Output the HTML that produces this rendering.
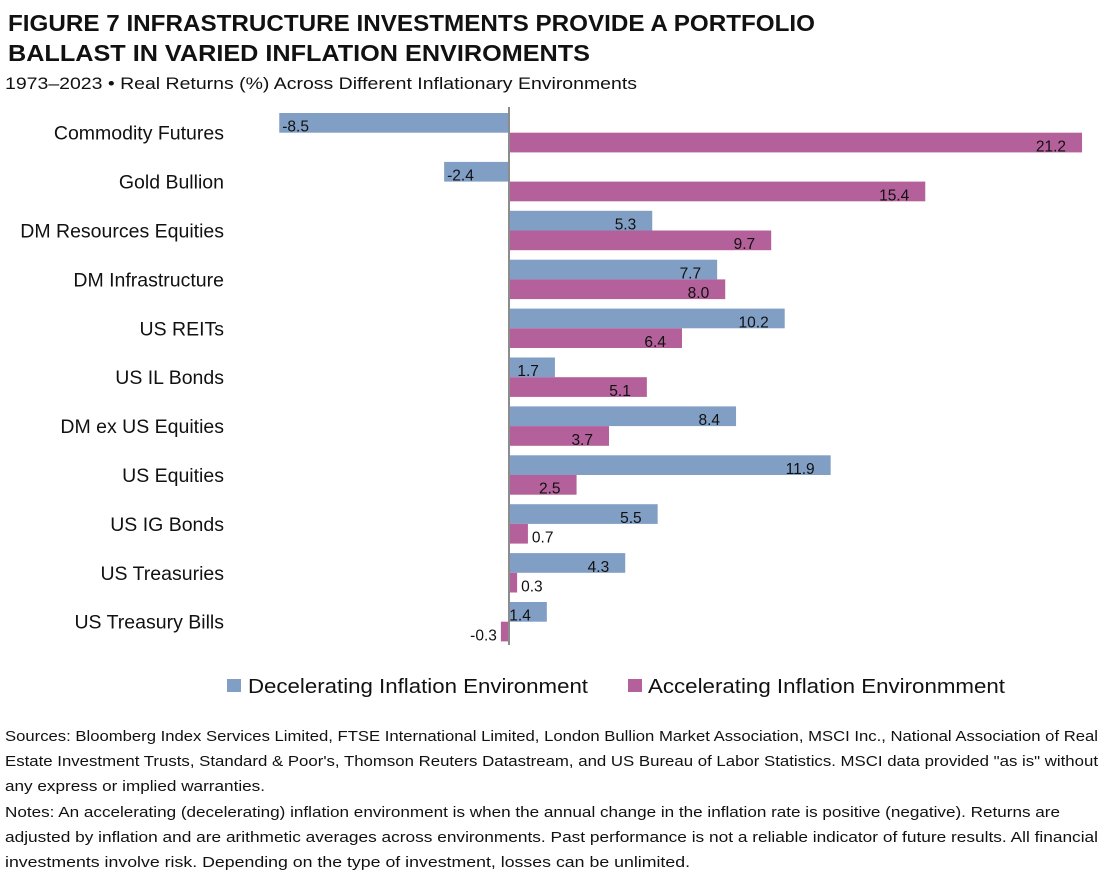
<!DOCTYPE html>
<html><head><meta charset="utf-8"><style>
html,body{margin:0;padding:0;background:#fff;}
svg{display:block;font-family:"Liberation Sans",sans-serif;}
</style></head><body>
<svg id="chart" width="1110" height="880" viewBox="0 0 1110 880" xmlns="http://www.w3.org/2000/svg">
<text x="8" y="31" font-size="23" font-weight="bold" fill="#111" textLength="807" lengthAdjust="spacingAndGlyphs">FIGURE 7   INFRASTRUCTURE INVESTMENTS PROVIDE A PORTFOLIO</text>
<text x="8" y="61" font-size="23" font-weight="bold" fill="#111" textLength="582" lengthAdjust="spacingAndGlyphs">BALLAST IN VARIED INFLATION ENVIROMENTS</text>
<text x="5" y="89" font-size="17" fill="#111" textLength="632" lengthAdjust="spacingAndGlyphs">1973–2023 • Real Returns (%) Across Different Inflationary Environments</text>
<g id="plot"></g>
<g>
<rect x="227" y="679" width="14" height="13" fill="#819fc5"/>
<text x="248" y="693" font-size="20" fill="#111" textLength="340" lengthAdjust="spacingAndGlyphs">Decelerating Inflation Environment</text>
<rect x="628" y="679" width="14" height="13" fill="#b4609a"/>
<text x="648" y="693" font-size="20" fill="#111" textLength="357" lengthAdjust="spacingAndGlyphs">Accelerating Inflation Environmment</text>
</g>
<g font-size="14.6" fill="#111">
<text x="5" y="741" textLength="1093" lengthAdjust="spacingAndGlyphs">Sources: Bloomberg Index Services Limited, FTSE International Limited, London Bullion Market Association, MSCI Inc., National Association of Real</text>
<text x="5" y="766" textLength="1093" lengthAdjust="spacingAndGlyphs">Estate Investment Trusts, Standard &amp; Poor's, Thomson Reuters Datastream, and US Bureau of Labor Statistics. MSCI data provided "as is" without</text>
<text x="5" y="791" textLength="260" lengthAdjust="spacingAndGlyphs">any express or implied warranties.</text>
<text x="5" y="817" textLength="1055" lengthAdjust="spacingAndGlyphs">Notes: An accelerating (decelerating) inflation environment is when the annual change in the inflation rate is positive (negative). Returns are</text>
<text x="5" y="842" textLength="1093" lengthAdjust="spacingAndGlyphs">adjusted by inflation and are arithmetic averages across environments. Past performance is not a reliable indicator of future results. All financial</text>
<text x="5" y="867" textLength="685" lengthAdjust="spacingAndGlyphs">investments involve risk. Depending on the type of investment, losses can be unlimited.</text>
</g>
</svg>
<script>
const categories = ["Commodity Futures","Gold Bullion","DM Resources Equities","DM Infrastructure","US REITs","US IL Bonds","DM ex US Equities","US Equities","US IG Bonds","US Treasuries","US Treasury Bills"];
const decelerating = [-8.5,-2.4,5.3,7.7,10.2,1.7,8.4,11.9,5.5,4.3,1.4];
const accelerating = [21.2,15.4,9.7,8.0,6.4,5.1,3.7,2.5,0.7,0.3,-0.3];

const NS = "http://www.w3.org/2000/svg";
const plot = document.getElementById('plot');
const x0 = 509, scale = 27.03;
const top0 = 113, pitch = 48.9, barH = 19.7;
function xs(v){ return x0 + v*scale; }
function rowTop(i){ return top0 + i*pitch; }
function mk(tag, attrs){ const e=document.createElementNS(NS,tag); for(const k in attrs) e.setAttribute(k, attrs[k]); return e; }

function drawBar(i, v, y, color, series){
  const xa = Math.min(xs(0), xs(v)), w = Math.abs(xs(v)-xs(0));
  const r = mk('rect',{x:xa,y:y,width:w,height:barH,fill:color});
  
  
  plot.appendChild(r);
  const t = mk('text',{y:y+barH-1,'font-size':15.5,fill:'#111'});
  
  
  t.textContent = v.toFixed(1);
  if (Math.abs(v) < 1) {
    if (v >= 0) { t.setAttribute('x', xs(v)+4); t.setAttribute('text-anchor','start'); }
    else { t.setAttribute('x', xs(v)-4); t.setAttribute('text-anchor','end'); }
  } else if (v >= 0) {
    t.setAttribute('x', xs(v)-16); t.setAttribute('text-anchor','end');
  } else {
    t.setAttribute('x', xs(v)+3); t.setAttribute('text-anchor','start');
  }
  plot.appendChild(t);
}

categories.forEach((c,i)=>{
  const y = rowTop(i);
  drawBar(i, decelerating[i], y, '#819fc5', 'decelerating');
  drawBar(i, accelerating[i], y+barH, '#b4609a', 'accelerating');
  const l = mk('text',{x:224,y:y+barH+7,'text-anchor':'end','font-size':19.5,fill:'#111'});
  
  
  l.textContent = c;
  plot.appendChild(l);
});
const ax = mk('line',{x1:x0,x2:x0,y1:107,y2:645,stroke:'#8c8c8c','stroke-width':2});


plot.appendChild(ax);
</script>
</body></html>
